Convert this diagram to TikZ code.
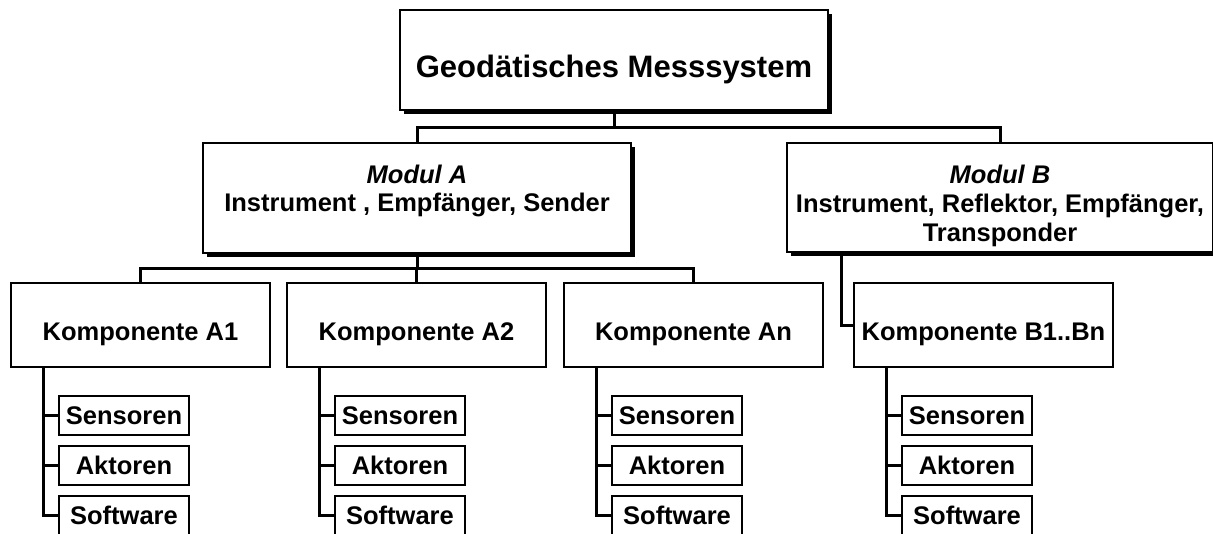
\documentclass[tikz,border=0pt]{standalone}
\usepackage{fontspec}
\setmainfont{Liberation Sans}
\usetikzlibrary{shadows}
\begin{document}
\begin{tikzpicture}[x=1pt,y=-1pt,
  box/.style={draw, line width=1.4pt, fill=white, inner sep=0pt},
  sbox/.style={box, drop shadow={opacity=1, fill=black, shadow xshift=4pt, shadow yshift=-4pt}},
  conn/.style={line width=3pt},
  lbl/.style={font=\fontsize{25.5}{29}\selectfont\bfseries, anchor=base, inner sep=0pt},
  ttl/.style={font=\fontsize{31}{36}\selectfont\bfseries, anchor=base, inner sep=0pt},
  ilbl/.style={font=\fontsize{25.5}{29}\selectfont\bfseries\itshape, anchor=base, inner sep=0pt}]
\useasboundingbox (0,0) rectangle (1213,533);
\clip (0,0) rectangle (1213,533);
\fill[white] (0,0) rectangle (1213,533);

% top
\node[sbox, minimum width=428, minimum height=100] (top) at (614,60) {};
\node[ttl] (toptxt) at (614,77) {Geodätisches Messsystem};

% modules
\node[sbox, minimum width=428, minimum height=110] (ma) at (417,198) {};
\node[ilbl] (ma1) at (417,183) {Modul A};
\node[lbl] (ma2) at (417,211) {Instrument , Empfänger, Sender};

\node[sbox, minimum width=426, minimum height=109] (mb) at (1000,197.5) {};
\node[ilbl] (mb1) at (1000,183) {Modul B};
\node[lbl] (mb2) at (1000,212) {Instrument, Reflektor, Empfänger,};
\node[lbl] (mb3) at (1000,241) {Transponder};

\coordinate (j1) at (614,127);
\draw[conn] (top.south) -- (j1);
\draw[conn] (ma.north) |- (j1) -| (mb.north);

% components
\foreach \n/\L/\t in {a1/11/Komponente A1, a2/287/Komponente A2, an/564/Komponente An, b/854/Komponente B1..Bn}{
  \node[box, minimum width=259, minimum height=84] (\n) at (\L+129.5,325) {};
  \node[lbl] (\n txt) at (\L+129.5,340) {\t};
  \coordinate (\n v) at (\L+32,0);
  \node[box, minimum width=130, minimum height=39] (\n se) at (\L+113,415.5) {};
  \node[lbl] (\n setxt) at (\L+113,424) {Sensoren};
  \node[box, minimum width=130, minimum height=39] (\n ak) at (\L+113,465.5) {};
  \node[lbl] (\n aktxt) at (\L+113,474) {Aktoren};
  \node[box, minimum width=130, minimum height=39] (\n sw) at (\L+113,515.5) {};
  \node[lbl] (\n swtxt) at (\L+113,524) {Software};
  \draw[conn] (\n.south -| \n v) |- (\n sw.west);
  \draw[conn] (\n se.west) -- (\n se.west -| \n v);
  \draw[conn] (\n ak.west) -- (\n ak.west -| \n v);
}

\coordinate (j2) at (417,268);
\draw[conn] (ma.south) -- (j2);
\draw[conn] (a1.north) |- (j2) -| (an.north);
\draw[conn] (a2.north) -- (a2.north |- j2);

\coordinate (bk) at (841,0);
\draw[conn] (mb.south -| bk) |- (b.west);
\end{tikzpicture}
\end{document}
